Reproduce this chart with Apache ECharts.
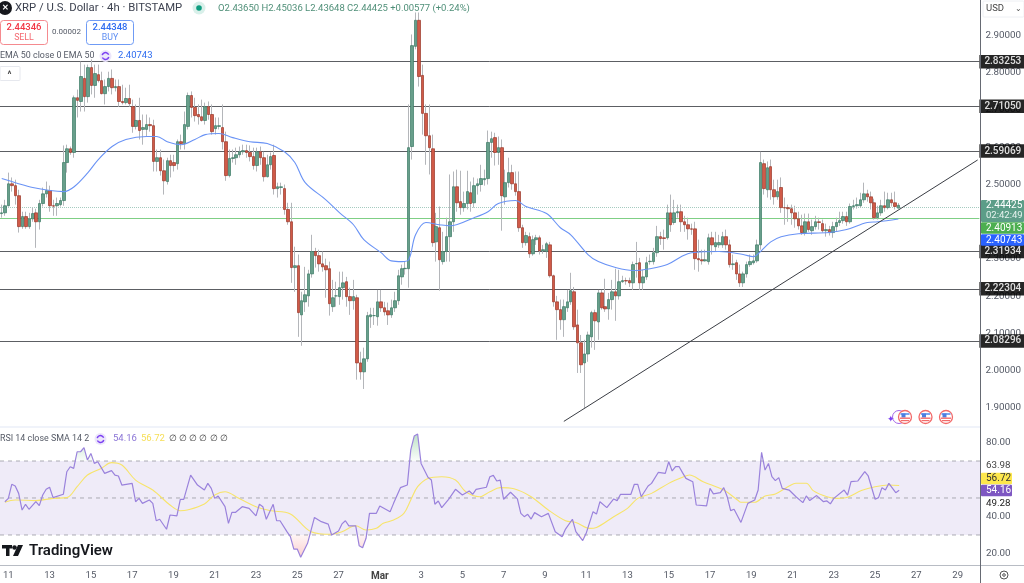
<!DOCTYPE html>
<html><head><meta charset="utf-8">
<style>html,body{margin:0;padding:0;background:#fff}#c{width:1024px;height:583px}</style>
<script src="https://cdn.jsdelivr.net/npm/echarts@6/dist/echarts.min.js"></script></head>
<body><div id="c"></div>
<script>
const tickLabels=['11','13','15','17','19','21','23','25','27','Mar','3','5','7','9','11','13','15','17','19','21','23','25','27','29'];
const opens=[2.422,2.424,2.443,2.502,2.497,2.470,2.387,2.414,2.387,2.408,2.424,2.400,2.449,2.475,2.484,2.443,2.443,2.446,2.457,2.559,2.596,2.586,2.733,2.723,2.785,2.736,2.814,2.766,2.795,2.779,2.744,2.763,2.785,2.760,2.763,2.723,2.720,2.731,2.709,2.656,2.672,2.648,2.648,2.661,2.658,2.562,2.572,2.537,2.508,2.564,2.559,2.556,2.615,2.610,2.656,2.739,2.707,2.688,2.682,2.672,2.709,2.688,2.650,2.656,2.653,2.615,2.524,2.570,2.572,2.580,2.588,2.591,2.586,2.575,2.551,2.588,2.572,2.521,2.553,2.578,2.489,2.492,2.489,2.433,2.400,2.277,2.282,2.150,2.185,2.201,2.260,2.320,2.309,2.287,2.282,2.274,2.172,2.201,2.199,2.223,2.239,2.199,2.188,2.196,2.021,1.997,2.032,2.145,2.148,2.145,2.185,2.169,2.161,2.150,2.169,2.188,2.252,2.274,2.274,2.602,2.871,2.941,2.793,2.691,2.631,2.596,2.346,2.384,2.293,2.320,2.360,2.400,2.494,2.454,2.438,2.449,2.478,2.451,2.497,2.500,2.513,2.516,2.613,2.626,2.586,2.599,2.467,2.505,2.532,2.502,2.481,2.384,2.344,2.360,2.314,2.352,2.357,2.322,2.320,2.338,2.255,2.185,2.164,2.137,2.169,2.185,2.212,2.123,2.075,2.021,2.045,2.091,2.156,2.131,2.209,2.172,2.166,2.191,2.212,2.201,2.239,2.242,2.242,2.236,2.287,2.290,2.236,2.252,2.293,2.293,2.317,2.360,2.357,2.357,2.424,2.398,2.424,2.427,2.400,2.392,2.381,2.381,2.301,2.298,2.295,2.293,2.357,2.333,2.338,2.338,2.360,2.338,2.285,2.290,2.260,2.236,2.260,2.285,2.290,2.295,2.338,2.556,2.486,2.548,2.486,2.467,2.492,2.438,2.438,2.435,2.424,2.408,2.389,2.371,2.400,2.376,2.387,2.400,2.395,2.376,2.379,2.371,2.387,2.398,2.403,2.414,2.400,2.441,2.443,2.443,2.459,2.475,2.467,2.451,2.411,2.424,2.443,2.438,2.459,2.451,2.4365];
const closes=[2.424,2.443,2.502,2.497,2.470,2.387,2.414,2.387,2.408,2.422,2.400,2.449,2.475,2.484,2.443,2.442,2.449,2.457,2.559,2.596,2.586,2.733,2.726,2.790,2.736,2.814,2.766,2.798,2.779,2.744,2.763,2.785,2.760,2.763,2.723,2.720,2.731,2.717,2.656,2.672,2.645,2.653,2.661,2.658,2.562,2.572,2.537,2.510,2.564,2.551,2.551,2.615,2.610,2.661,2.739,2.707,2.685,2.682,2.672,2.709,2.688,2.642,2.658,2.658,2.615,2.524,2.570,2.572,2.580,2.588,2.591,2.586,2.575,2.551,2.588,2.572,2.521,2.553,2.575,2.489,2.494,2.494,2.433,2.400,2.277,2.282,2.156,2.188,2.204,2.260,2.320,2.309,2.287,2.279,2.271,2.180,2.196,2.201,2.223,2.236,2.199,2.188,2.199,2.021,1.997,2.032,2.148,2.150,2.148,2.185,2.169,2.158,2.150,2.169,2.188,2.255,2.274,2.275,2.599,2.873,2.941,2.790,2.691,2.631,2.599,2.344,2.387,2.298,2.320,2.360,2.400,2.494,2.451,2.438,2.449,2.481,2.449,2.497,2.502,2.516,2.516,2.613,2.623,2.586,2.599,2.470,2.505,2.532,2.502,2.481,2.384,2.344,2.363,2.314,2.352,2.357,2.322,2.325,2.341,2.255,2.185,2.164,2.137,2.172,2.185,2.215,2.118,2.075,2.016,2.045,2.096,2.156,2.134,2.209,2.169,2.166,2.191,2.212,2.201,2.239,2.242,2.241,2.236,2.285,2.288,2.236,2.252,2.290,2.294,2.317,2.360,2.355,2.355,2.424,2.392,2.424,2.427,2.400,2.392,2.381,2.380,2.301,2.298,2.295,2.298,2.357,2.338,2.344,2.344,2.360,2.338,2.285,2.287,2.260,2.236,2.260,2.285,2.293,2.295,2.338,2.559,2.489,2.545,2.486,2.467,2.481,2.438,2.437,2.435,2.424,2.408,2.389,2.371,2.400,2.379,2.387,2.400,2.398,2.376,2.379,2.371,2.387,2.398,2.403,2.414,2.400,2.441,2.443,2.446,2.459,2.475,2.467,2.451,2.411,2.424,2.443,2.438,2.459,2.451,2.441,2.44425];
const highs=[2.446,2.459,2.532,2.519,2.513,2.486,2.427,2.427,2.424,2.438,2.435,2.459,2.492,2.508,2.497,2.459,2.465,2.465,2.605,2.607,2.602,2.739,2.755,2.830,2.822,2.822,2.836,2.822,2.822,2.803,2.782,2.803,2.809,2.782,2.782,2.768,2.760,2.768,2.728,2.715,2.733,2.688,2.688,2.680,2.674,2.594,2.594,2.567,2.572,2.580,2.580,2.621,2.634,2.696,2.747,2.750,2.733,2.715,2.728,2.720,2.723,2.715,2.680,2.680,2.715,2.642,2.594,2.594,2.599,2.602,2.607,2.607,2.605,2.599,2.599,2.602,2.588,2.580,2.586,2.607,2.505,2.505,2.500,2.451,2.451,2.333,2.312,2.212,2.279,2.271,2.365,2.330,2.325,2.320,2.301,2.293,2.244,2.239,2.266,2.266,2.252,2.223,2.244,2.204,2.051,2.062,2.158,2.169,2.169,2.217,2.217,2.185,2.183,2.191,2.212,2.271,2.285,2.293,2.715,2.903,2.962,2.962,2.822,2.715,2.715,2.634,2.424,2.441,2.373,2.411,2.527,2.535,2.540,2.537,2.481,2.537,2.508,2.519,2.516,2.553,2.540,2.645,2.642,2.639,2.629,2.621,2.540,2.572,2.553,2.535,2.535,2.392,2.373,2.371,2.363,2.365,2.363,2.338,2.346,2.346,2.258,2.201,2.191,2.191,2.217,2.263,2.225,2.164,2.096,2.083,2.105,2.161,2.164,2.217,2.217,2.247,2.209,2.244,2.274,2.271,2.255,2.250,2.250,2.293,2.346,2.303,2.271,2.306,2.312,2.330,2.389,2.373,2.379,2.446,2.473,2.459,2.446,2.446,2.416,2.411,2.395,2.400,2.352,2.325,2.325,2.368,2.373,2.373,2.365,2.373,2.379,2.352,2.312,2.298,2.285,2.266,2.293,2.312,2.312,2.352,2.588,2.567,2.562,2.567,2.513,2.513,2.519,2.465,2.446,2.446,2.443,2.427,2.419,2.422,2.422,2.406,2.416,2.411,2.406,2.395,2.389,2.400,2.411,2.427,2.427,2.427,2.449,2.459,2.465,2.478,2.505,2.486,2.481,2.462,2.443,2.459,2.481,2.478,2.478,2.481,2.45036];
const lows=[2.411,2.416,2.441,2.481,2.446,2.371,2.381,2.381,2.381,2.400,2.330,2.379,2.441,2.465,2.427,2.416,2.416,2.441,2.443,2.532,2.580,2.572,2.680,2.696,2.696,2.720,2.742,2.733,2.774,2.742,2.715,2.750,2.742,2.750,2.709,2.715,2.715,2.709,2.639,2.648,2.621,2.607,2.629,2.642,2.535,2.535,2.524,2.473,2.500,2.519,2.535,2.540,2.594,2.594,2.648,2.680,2.669,2.661,2.669,2.661,2.674,2.634,2.634,2.648,2.594,2.510,2.519,2.559,2.553,2.572,2.580,2.572,2.562,2.540,2.535,2.553,2.508,2.519,2.540,2.473,2.465,2.473,2.419,2.392,2.236,2.212,2.091,2.067,2.158,2.172,2.250,2.277,2.266,2.266,2.196,2.148,2.158,2.172,2.177,2.191,2.172,2.150,2.164,1.976,1.976,1.951,2.024,2.115,2.123,2.121,2.158,2.148,2.123,2.142,2.158,2.177,2.231,2.258,2.223,2.567,2.863,2.763,2.634,2.553,2.527,2.333,2.293,2.215,2.285,2.293,2.293,2.373,2.427,2.419,2.427,2.433,2.427,2.438,2.473,2.481,2.497,2.500,2.572,2.551,2.553,2.376,2.446,2.492,2.486,2.470,2.373,2.330,2.336,2.303,2.309,2.338,2.312,2.314,2.303,2.250,2.172,2.083,2.110,2.091,2.158,2.177,2.110,1.994,1.994,1.900,2.024,2.062,2.056,2.083,2.164,2.158,2.137,2.164,2.134,2.191,2.236,2.231,2.225,2.217,2.250,2.217,2.217,2.244,2.285,2.285,2.306,2.338,2.325,2.352,2.373,2.392,2.411,2.373,2.373,2.352,2.365,2.271,2.266,2.285,2.293,2.285,2.312,2.320,2.330,2.330,2.325,2.277,2.271,2.244,2.225,2.225,2.250,2.279,2.285,2.290,2.325,2.473,2.465,2.459,2.446,2.459,2.424,2.392,2.400,2.392,2.384,2.379,2.365,2.363,2.373,2.365,2.379,2.379,2.371,2.360,2.363,2.357,2.373,2.389,2.395,2.389,2.395,2.433,2.435,2.438,2.451,2.454,2.433,2.406,2.406,2.416,2.427,2.433,2.441,2.433,2.43648];
const emaIndex=[0,4,9,14,18,21,25,28,32,36,42,45,48,52,56,59,63,67,72,77,82,85,88,94,98,102,105,110,113,116,118,120,123,127,130,137,141,144,149,152,158,162,165,170,173,178,183,188,193,197,200,208,215,218,220,223,226,231,240,245,251,254,260];
const emaValues=[2.516,2.505,2.492,2.484,2.481,2.494,2.532,2.567,2.602,2.621,2.629,2.629,2.615,2.607,2.621,2.634,2.637,2.626,2.615,2.610,2.588,2.559,2.505,2.459,2.424,2.392,2.352,2.317,2.295,2.293,2.298,2.365,2.398,2.392,2.389,2.411,2.427,2.449,2.457,2.441,2.422,2.384,2.365,2.312,2.293,2.277,2.269,2.274,2.285,2.306,2.317,2.320,2.312,2.306,2.320,2.346,2.360,2.368,2.371,2.379,2.398,2.400,2.40743];
const rsiIndex=[0,1,2,3,4,5,6,7,9,10,11,12,13,14,17,18,19,20,21,22,23,24,25,26,27,29,31,32,33,34,37,38,39,40,42,43,44,45,47,48,50,51,52,54,56,58,59,60,61,62,64,65,66,67,69,71,73,74,75,76,78,79,80,82,83,84,85,86,88,90,92,94,95,97,98,99,100,102,103,104,105,106,108,109,112,113,115,117,118,119,120,121,123,124,125,126,127,129,131,133,135,136,137,140,141,142,143,144,145,147,149,150,151,152,153,154,156,158,160,162,163,165,166,168,169,171,172,173,175,177,178,179,182,183,184,185,187,188,190,192,193,194,195,196,197,198,200,201,204,205,206,208,209,210,211,212,214,216,218,219,220,221,222,223,224,225,226,228,230,232,233,234,236,238,239,240,241,244,245,246,248,250,251,253,254,255,256,257,259,260];
const rsiValues=[48.0,49.8,57.4,56.5,52.5,43.5,46.6,43.9,48.0,45.9,51.6,54.7,55.8,50.2,52.0,64.2,66.9,66.0,75.0,75.0,77.2,70.5,74.1,68.7,69.6,63.3,64.8,62.4,61.9,57.0,57.9,48.0,49.8,47.1,48.9,47.1,37.7,38.5,33.1,40.8,40.3,49.3,49.3,62.4,57.0,54.3,57.9,55.2,49.8,51.1,45.3,36.3,42.2,42.2,45.3,44.4,40.3,46.6,45.3,38.5,46.6,37.7,37.7,31.8,29.1,22.4,22.4,18.0,25.5,39.5,37.2,35.9,30.0,32.2,36.0,37.7,34.9,34.9,24.2,23.1,28.2,41.7,41.7,45.7,42.6,47.1,55.6,57.0,76.0,83.5,84.6,68.7,61.2,59.7,46.6,48.4,44.8,49.3,54.7,51.6,53.8,52.0,54.7,55.8,61.5,62.2,59.2,59.7,49.3,53.1,49.5,41.7,39.9,41.2,38.6,42.1,39.9,41.7,31.8,29.1,33.2,38.5,31.8,27.0,30.9,42.6,41.3,48.0,44.8,49.5,48.6,52.0,52.0,57.4,57.4,50.7,56.5,57.9,63.9,63.3,69.6,64.6,67.0,67.0,63.7,60.6,58.8,46.2,45.7,55.2,52.2,52.9,55.6,50.7,43.2,43.9,36.8,47.1,48.9,54.3,74.7,65.1,68.7,61.5,59.4,61.0,55.2,54.3,50.7,47.5,51.1,48.6,51.3,48.0,48.4,46.8,49.8,54.3,51.6,58.8,59.2,64.2,61.9,49.3,50.2,55.6,54.3,57.9,52.9,54.16];
const smaIndex=[0,3,9,14,18,21,24,28,31,34,38,43,48,51,53,58,61,64,68,73,77,83,89,95,98,102,105,108,110,113,116,118,120,123,127,131,134,138,141,144,148,153,158,163,166,170,172,177,181,184,188,193,197,199,203,209,213,214,218,221,224,228,230,233,235,239,242,245,249,253,257,260];
const smaValues=[47.7,48.9,48.6,49.8,50.2,56.1,62.4,66.0,69.1,67.8,59.7,54.3,46.2,43.1,43.5,46.8,51.6,53.4,49.8,45.3,43.2,41.4,31.8,30.4,31.8,35.0,32.7,33.6,36.3,38.1,41.7,48.9,56.1,60.6,61.5,59.7,53.4,50.7,53.4,55.6,55.0,50.7,43.5,37.7,36.8,33.6,34.1,39.9,44.4,49.8,52.5,57.9,61.2,62.4,58.8,54.3,48.9,47.7,47.7,51.1,52.2,56.5,58.0,58.0,54.0,50.7,49.8,50.4,54.0,56.1,57.0,56.72];
const levels=[2.83253,2.71050,2.59069,2.31934,2.22304,2.08296];
const priceTicks=[2.9,2.8,2.7,2.6,2.5,2.3,2.2,2.1,2.0,1.9];
const rsiTicks=[80,40,20];
const rsiBands=[70,50,30];
const lastPrice=2.44425, greenLevel=2.40913;
const trendIndex=[163,283], trendPrice=[1.864,2.566];
const BAR_SLOTS=284;

const categories=[];for(let i=0;i<BAR_SLOTS;i++){categories.push(i%12===1?tickLabels[(i-1)/12]:'');}
const wicks=opens.map((o,i)=>[o,closes[i],lows[i],highs[i]]);
const bodies=opens.map((o,i)=>[o,closes[i],Math.min(o,closes[i]),Math.max(o,closes[i])]);
const pairs=(a,b)=>a.map((x,i)=>[x,b[i]]);
const FONT='Roboto, "Liberation Sans", sans-serif';

function T(x,y,text,fill,size,weight,align){return{type:'text',silent:true,z:50,style:{x,y,text,fill,font:(weight||'normal')+' '+(size||9.5)+'px '+FONT,textAlign:align||'left',textVerticalAlign:'middle'}};}
function box(x,y,w,h,fill,stroke,r){return{type:'rect',silent:true,z:49,shape:{x,y,width:w,height:h,r:r||0},style:{fill,stroke:stroke||null,lineWidth:stroke?1:0}};}
function tag(y,h,text,fill,color,w){return[box(981,y-h/2,w||43,h,fill,null,1),T(986,y,text,color||'#fff',10)];}
function flag(x,y){return[{type:'circle',silent:true,z:49,shape:{cx:x,cy:y,r:6.5},style:{fill:'#fff',stroke:'#f26a6a',lineWidth:1.3}},
 box(x-4.5,y-4,9,2,'#7aa7f0'),box(x-3.5,y-3.5,4,4,'#4d7fe0'),box(x-5,y+0.5,10,1.4,'#f26a6a'),box(x-4,y+3,8,1.2,'#f26a6a')];}
function spin(x,y){return[{type:'circle',silent:true,z:49,shape:{cx:x,cy:y,r:6},style:{fill:'#ece6fb'}},{type:'arc',silent:true,z:50,shape:{cx:x,cy:y,r:3.4,startAngle:0.3,endAngle:2.7},style:{stroke:'#7b3ff2',lineWidth:1.5,fill:null}},{type:'arc',silent:true,z:50,shape:{cx:x,cy:y,r:3.4,startAngle:3.4,endAngle:5.9},style:{stroke:'#7b3ff2',lineWidth:1.5,fill:null}}];}

const graphics=[
 box(0,426,980,2,'#f0f3fa'),
 {type:'line',silent:true,z:40,shape:{x1:0,y1:565.5,x2:1024,y2:565.5},style:{stroke:'#b8bcc4',lineWidth:1.2}},
 {type:'line',silent:true,z:40,shape:{x1:980.5,y1:0,x2:980.5,y2:583},style:{stroke:'#666a73',lineWidth:1}},
 {type:'circle',silent:true,z:49,shape:{cx:5,cy:8,r:7},style:{fill:'#16181d'}},
 T(5,8,'✕','#fff',8,'bold','center'),
 T(15,8.5,'XRP / U.S. Dollar · 4h · BITSTAMP','#3d4250',11.3),
 {type:'circle',silent:true,z:49,shape:{cx:199,cy:8,r:6.5},style:{fill:'#d9f0ea'}},
 {type:'circle',silent:true,z:50,shape:{cx:199,cy:8,r:2.8},style:{fill:'#0f9d80'}},
 T(218,8.5,'O2.43650 H2.45036 L2.43648 C2.44425 +0.00577 (+0.24%)','#4f8f78',9.5),
 box(0.5,20.5,47,24,'#fff','#f58a8f',3),T(24,28,'2.44346','#f23645',9.5,'500','center'),T(24,38,'SELL','#f56a72',8.8,'normal','center'),
 T(66.5,32,'0.00002','#555a66',8,'normal','center'),
 box(86.5,20.5,47,24,'#fff','#6f9bf5',3),T(110,28,'2.44348','#2f6df0',9.5,'500','center'),T(110,38,'BUY','#5f8ff2',8.8,'normal','center'),
 T(0,56,'EMA 50 close 0 EMA 50','#555a66',8.9),
 ...spin(105.5,56),
 T(118,56,'2.40743','#2f6df0',9.5),
 box(0,66.5,20,14,'#fff','#e6e8ee',1),T(9.5,74.5,'^','#444',9,'bold','center'),
 T(0,439,'RSI 14 close SMA 14 2','#555a66',8.9),
 ...spin(100.5,439),
 T(113,439,'54.16','#8a74d6',9.5),T(141,439,'56.72','#f6de55',9.5),
 T(169,439,'∅ ∅ ∅ ∅ ∅ ∅','#444',8.6),
 {type:'rect',silent:true,z:50,shape:{x:2,y:545,width:10,height:3.5},style:{fill:'#16181d'}},
 {type:'rect',silent:true,z:50,shape:{x:6,y:545,width:3.5,height:11},style:{fill:'#16181d'}},
 {type:'circle',silent:true,z:50,shape:{cx:14.5,cy:547.5,r:2.3},style:{fill:'#16181d'}},
 {type:'polygon',silent:true,z:50,shape:{points:[[18,545],[23,545],[18,556],[13,556]]},style:{fill:'#16181d'}},
 T(29,551,'TradingView','#16181d',15,'600'),
 box(983,1,41,16,'#fff','#eef0f4',1),T(986,9,'USD','#444',9.5),T(1015,9,'⌄','#555',8),
 ...tag(211,22,'','#5c9d88'),T(986,205.5,'2.44425','#fff',10),T(986,216,'02:42:49','#e7f3ef',9.5),
 ...tag(228,11.5,'2.40913','#4caf50'),
 ...tag(240,11.5,'2.40743','#2962ff'),
 T(986,466,'63.98','#444',9.8),T(986,504,'49.28','#222',9.8),
 ...tag(478.5,11.5,'56.72','#fde74c','#333',31),
 ...tag(490.5,11.5,'54.16','#7e57c2','#fff',31),
 {type:'circle',silent:true,z:50,shape:{cx:1004,cy:575,r:4},style:{fill:'#fff',stroke:'#555',lineWidth:1}},
 {type:'circle',silent:true,z:50,shape:{cx:1004,cy:575,r:1.3},style:{fill:'#fff',stroke:'#555',lineWidth:1}},
 {type:'text',silent:true,z:49,style:{x:891,y:420,text:'✦',fill:'#7b3ff2',font:'9px '+FONT,textAlign:'center',textVerticalAlign:'middle'}},
 {type:'circle',silent:true,z:48,shape:{cx:899,cy:417,r:6.5},style:{fill:'#fff',stroke:'#a566e8',lineWidth:1}},
 ...flag(905,417),...flag(925.5,417),...flag(946,417)
];

const levelLines=levels.map(v=>({yAxis:v,lineStyle:{color:'#3f4248',width:1,type:'solid',opacity:.85},label:{show:true,position:'end',distance:0,formatter:v.toFixed(5),color:'#fff',backgroundColor:'#000',padding:[2,5,1.5,5],fontSize:10,fontWeight:500,fontFamily:FONT}}));
const extraLines=[
 {yAxis:lastPrice,lineStyle:{color:'#7fb5a5',width:1,type:'dotted',opacity:.7},label:{show:false}},
 {yAxis:greenLevel,lineStyle:{color:'#7fcf85',width:1,type:'solid'},label:{show:false}}
];

const option={
 animation:false,backgroundColor:'#fff',
 textStyle:{fontFamily:FONT},
 axisPointer:{show:false},
 grid:[{left:0,top:0,width:980,height:427},{left:0,top:427,width:980,height:138}],
 xAxis:[
  {type:'category',gridIndex:0,data:categories,boundaryGap:true,axisLine:{show:false},axisTick:{show:false},axisLabel:{show:false},splitLine:{show:false}},
  {type:'category',gridIndex:1,data:categories,boundaryGap:true,axisLine:{show:false},axisTick:{show:false},splitLine:{show:false},
   axisLabel:{interval:(i,v)=>v!=='',margin:6,color:'#555a66',fontSize:9.5,fontFamily:FONT,hideOverlap:false,rich:{b:{fontWeight:'bold',color:'#444',fontSize:10}},formatter:v=>v==='Mar'?'{b|Mar}':v}},
  {type:'value',gridIndex:0,show:false,min:0,max:1}
 ],
 yAxis:[
  {type:'value',gridIndex:0,position:'right',min:1.8489,max:2.9955,axisLine:{show:false},axisTick:{show:false},splitLine:{show:false},
   axisLabel:{customValues:priceTicks,margin:6,padding:[3,0,0,0],color:'#555a66',fontSize:9.8,fontFamily:FONT,formatter:v=>v.toFixed(5)}},
  {type:'value',gridIndex:1,position:'right',min:13.78,max:88.38,axisLine:{show:false},axisTick:{show:false},splitLine:{show:false},
   axisLabel:{customValues:rsiTicks,margin:6,padding:[2,0,0,0],color:'#555a66',fontSize:9.8,fontFamily:FONT,formatter:v=>v.toFixed(2)}}
 ],
 series:[
  {name:'levels',type:'line',xAxisIndex:2,yAxisIndex:0,data:[[0,lastPrice]],showSymbol:false,silent:true,z:1,lineStyle:{width:0},
   markLine:{silent:true,symbol:'none',z:1,animation:false,data:[...levelLines,...extraLines]}},
  {name:'wick',type:'candlestick',xAxisIndex:0,yAxisIndex:0,data:wicks,barWidth:1,z:2,silent:true,
   itemStyle:{color:'#b4b6ba',color0:'#b4b6ba',borderColor:'#b4b6ba',borderColor0:'#b4b6ba',borderColorDoji:'#b4b6ba',borderWidth:1},
   markLine:{silent:true,symbol:'none',z:5,animation:false,label:{show:false},lineStyle:{color:'#3a3d44',width:1,type:'solid'},
     data:[[{coord:[trendIndex[0],trendPrice[0]]},{coord:[trendIndex[1],trendPrice[1]]}]]}},
  {name:'EMA 50',type:'line',xAxisIndex:0,yAxisIndex:0,data:pairs(emaIndex,emaValues),showSymbol:false,smooth:0.35,z:4,silent:true,lineStyle:{color:'#6a93f5',width:1.1}},
  {name:'body',type:'candlestick',xAxisIndex:0,yAxisIndex:0,data:bodies,barWidth:3,z:3,silent:true,
   itemStyle:{color:'#689f8b',color0:'#d05a48',borderColor:'#3b7a64',borderColor0:'#9a3728',borderColorDoji:'#3b7a64',borderWidth:0.7}},
  {name:'RSI',type:'line',xAxisIndex:1,yAxisIndex:1,data:pairs(rsiIndex,rsiValues),showSymbol:false,z:4,silent:true,lineStyle:{color:'#9a82dc',width:1.2},
   areaStyle:{origin:70,color:new echarts.graphic.LinearGradient(0,427,0,565,[
     {offset:0,color:'rgba(76,175,100,.65)'},{offset:.245,color:'rgba(76,175,100,.04)'},{offset:.246,color:'rgba(0,0,0,0)'},
     {offset:.782,color:'rgba(0,0,0,0)'},{offset:.783,color:'rgba(242,80,80,.08)'},{offset:1,color:'rgba(242,80,80,.5)'}],true)}},
  {name:'RSI SMA',type:'line',xAxisIndex:1,yAxisIndex:1,data:pairs(smaIndex,smaValues),showSymbol:false,smooth:0.35,z:3,silent:true,lineStyle:{color:'#f7e46a',width:1.1}}
 ]
};
const chart=echarts.init(document.getElementById('c'),null,{renderer:'canvas'});
chart.setOption(option);
const rsiY=v=>chart.convertToPixel({yAxisIndex:1},v);
const bandTop=rsiY(rsiBands[0]),bandBottom=rsiY(rsiBands[2]);
const bandGraphics=[
 {type:'rect',silent:true,z:0,shape:{x:0,y:bandTop,width:980,height:bandBottom-bandTop},style:{fill:'#efebf8'}},
 ...rsiBands.map(v=>({type:'line',silent:true,z:0,shape:{x1:0,y1:rsiY(v),x2:980,y2:rsiY(v)},style:{stroke:'#a3a3ab',lineWidth:0.9,lineDash:[4,4]}}))
];
chart.setOption({graphic:[...bandGraphics,...graphics]});
</script></body></html>
